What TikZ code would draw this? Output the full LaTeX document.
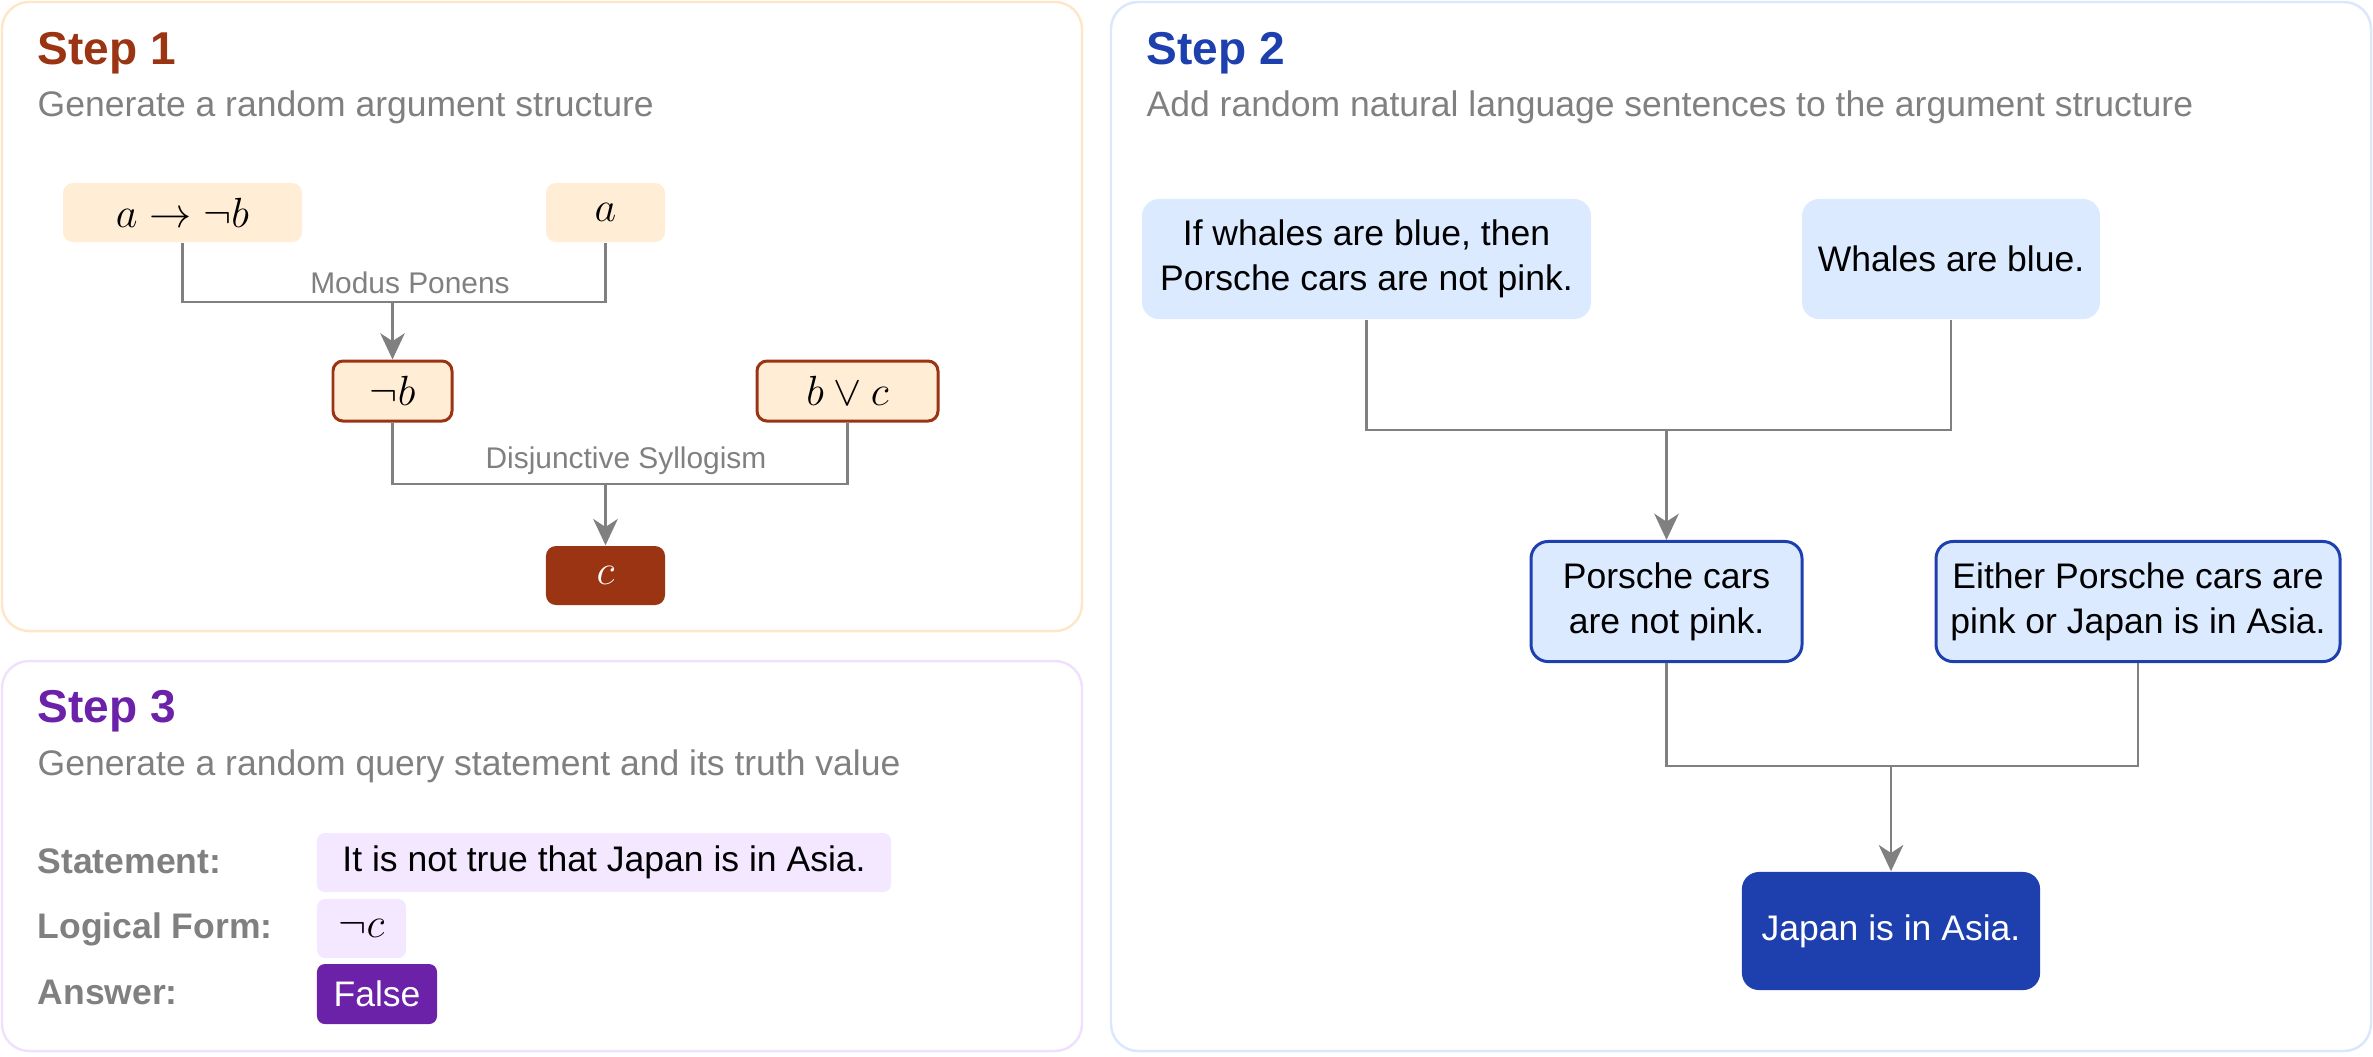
\documentclass[tikz,border=0pt]{standalone}
\usepackage{fontspec}
\setmainfont{Liberation Sans}
\usetikzlibrary{arrows.meta}
\definecolor{rust}{HTML}{9A3412}
\definecolor{peach}{HTML}{FFEDD5}
\definecolor{peachline}{HTML}{FFE6C9}
\definecolor{navy}{HTML}{1E40AF}
\definecolor{sky}{HTML}{DBEAFE}
\definecolor{skyline}{HTML}{DAE7FC}
\definecolor{grape}{HTML}{6B21A8}
\definecolor{lilac}{HTML}{F3E8FF}
\definecolor{lilacline}{HTML}{EFE1FD}
\definecolor{linegray}{HTML}{808080}
\tikzstyle{stepframe}=[draw,line width=0.7pt,rounded corners=0.27cm]
\tikzstyle{steptitle}=[anchor=base west,inner sep=0pt,font=\fontsize{13.1}{15}\selectfont\bfseries]
\tikzstyle{stepsub}=[anchor=base west,inner sep=0pt,text=linegray,font=\fontsize{10.1}{12}\selectfont]
\tikzstyle{formula}=[rounded corners=0.1cm,fill=peach,minimum height=0.59cm,font=\fontsize{12}{14}\selectfont]
\tikzstyle{derived}=[formula,draw=rust,line width=0.85pt,minimum height=0.6cm]
\tikzstyle{sentence}=[rounded corners=0.17cm,fill=sky,minimum height=1.2cm,align=center,font=\fontsize{10.1}{12.8}\selectfont]
\tikzstyle{inferred}=[sentence,draw=navy,line width=0.85pt]
\tikzstyle{edge}=[draw,linegray,line width=0.65pt]
\tikzstyle{rulelabel}=[anchor=base,inner sep=0pt,text=linegray,font=\fontsize{8.5}{10}\selectfont]
\tikzstyle{field}=[anchor=base west,inner sep=0pt,text=linegray,font=\fontsize{10.1}{12}\selectfont\bfseries]
\tikzstyle{answerbox}=[rounded corners=0.08cm,fill=lilac,font=\fontsize{10.1}{12}\selectfont]

\begin{document}
\begin{tikzpicture}[x=0.01cm,y=-0.01cm,>={Stealth[length=7.5pt,width=7pt,inset=2.3pt]}]
				\useasboundingbox (0,0) rectangle (2373,1056);

				% First we draw the three panels and their headings
				\draw[stepframe,peachline] (2,2) rectangle (1082,631);
				\draw[stepframe,lilacline] (2,661) rectangle (1082,1051);
				\draw[stepframe,skyline] (1111,2) rectangle (2371,1051);

				\node[steptitle,text=rust] (t1) at (37,64) {Step 1};
				\node[stepsub] (s1) at (37,116) {Generate a random argument structure};
				\node[steptitle,text=navy] (t2) at (1146,64) {Step 2};
				\node[stepsub] (s2) at (1146,116) {Add random natural language sentences to the argument structure};
				\node[steptitle,text=grape] (t3) at (37,722) {Step 3};
				\node[stepsub] (s3) at (37,775) {Generate a random query statement and its truth value};

				% Step 1: the formulas
				\foreach \pos/\name/\w/\txt in {{(182.5,212.5)/imp/239/a\to\neg b}, {(605.5,212.5)/a/119/a}}
				\node[formula,minimum width=\w*0.01cm] (\name) at \pos {$\txt$};
				\foreach \pos/\name/\w/\txt in {{(392.5,391)/negb/119/\neg b}, {(847.5,391)/bvc/181/b\vee c}}
				\node[derived,minimum width=\w*0.01cm] (\name) at \pos {$\txt$};
				\node[formula,fill=rust,text=white,minimum width=1.19cm] (c) at (605.5,575.5) {$c$};

				% Connect the formulas and name the rules
				\coordinate (mp) at (392.5,302);
				\coordinate (ds) at (605.5,484);
				\path[edge] (imp.south) |- (mp) -| (a.south);
				\path[edge] (negb.south) |- (ds) -| (bvc.south);
				\foreach \source/\dest in {mp/negb, ds/c}
				\path[edge,->] (\source) -- (\dest.north);
				\node[rulelabel] (mpl) at (410,293) {Modus Ponens};
				\node[rulelabel] (dsl) at (626,468) {Disjunctive Syllogism};

				% Step 2: the sentences
				\foreach \pos/\name/\w/\txt in {{(1366.5,259)/ifw/449/{If whales are blue, then\\Porsche cars are not pink.}}, {(1951,259)/wb/298/{Whales are blue.}}}
				\node[sentence,minimum width=\w*0.01cm] (\name) at \pos {\txt};
				\foreach \pos/\name/\w/\txt in {{(1666.5,601.5)/pc/271/{Porsche cars\\are not pink.}}, {(2138,601.5)/eit/404/{Either Porsche cars are\\pink or Japan is in Asia.}}}
				\node[inferred,minimum width=\w*0.01cm] (\name) at \pos {\txt};
				\node[sentence,fill=navy,text=white,minimum width=2.98cm,minimum height=1.18cm] (jap) at (1891,931) {Japan is in Asia.};

				% Connect the sentences
				\coordinate (j1) at (1666.5,430);
				\coordinate (j2) at (1891,766);
				\path[edge] (ifw.south) |- (j1) -| (wb.south);
				\path[edge] (pc.south) |- (j2) -| (eit.south);
				\foreach \source/\dest in {j1/pc, j2/jap}
				\path[edge,->] (\source) -- (\dest.north);

				% Step 3: the query
				\foreach \y/\name/\txt in {873/fs/Statement:, 938/fl/Logical Form:, 1004/fa/Answer:}
				\node[field] (\name) at (37,\y) {\txt};
				\node[answerbox,minimum width=5.74cm,minimum height=0.59cm] (stmt) at (604,862.5) {It is not true that Japan is in Asia.};
				\node[answerbox,minimum width=0.89cm,minimum height=0.59cm,font=\fontsize{12}{14}\selectfont] (form) at (361.5,928.5) {$\neg c$};
				\node[answerbox,fill=grape,text=white,minimum width=1.2cm,minimum height=0.6cm] (ans) at (377,994) {False};
			\end{tikzpicture}
\end{document}
